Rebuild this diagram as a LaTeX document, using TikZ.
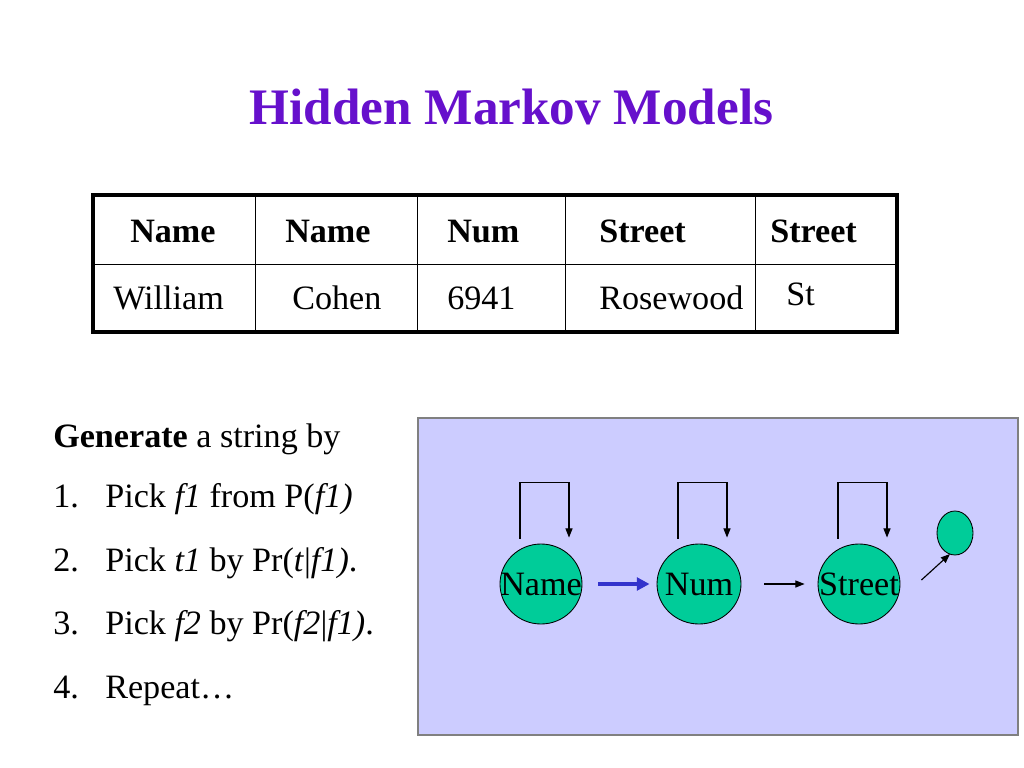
\documentclass[tikz,border=0pt]{standalone}
\usepackage{fontspec}
\setmainfont{Liberation Serif}
\usetikzlibrary{arrows.meta,calc,shapes.geometric}
\definecolor{titlecol}{HTML}{6610CC}
\definecolor{panel}{HTML}{CCCCFF}
\definecolor{panelborder}{HTML}{808080}
\definecolor{nodefill}{HTML}{00CC99}
\definecolor{bluearrow}{HTML}{3333CC}
\tikzset{
  txt/.style={font=\fontsize{24}{28}\selectfont, inner sep=0pt, anchor=base west},
  hdr/.style={txt, font=\fontsize{24}{28}\selectfont\bfseries},
  state/.style={ellipse, draw=black, line width=0.6pt, fill=nodefill, inner sep=0pt,
                font=\fontsize{24}{28}\selectfont},
  tip/.style={-{Triangle[length=6.5pt,width=5pt]}, line width=0.8pt},
  loopline/.style={tip, black},
}
\newcommand{\zw}[1]{\makebox[0pt]{#1}}
\begin{document}
\begin{tikzpicture}[x=0.703125pt, y=-0.703125pt]
\useasboundingbox (0,0) rectangle (1024,768);
\fill[white] (0,0) rectangle (1024,768);
% title
\node[anchor=base, inner sep=0pt, text=titlecol, font=\fontsize{36}{40}\selectfont\bfseries] (title) at (511.5,125) {Hidden Markov Models};
% table
\draw[line width=0.7pt] (93,264) -- (897,264);
\foreach \x in {255,417,565,755} \draw[line width=0.7pt] (\x,195) -- (\x,332);
\draw[line width=2.2pt] (93,195) rectangle (897,332);
\node[hdr] (h1) at (130,243) {Name};
\node[hdr] (h2) at (285,243) {Name};
\node[hdr] (h3) at (447,243) {Num};
\node[hdr] (h4) at (599,243) {Street};
\node[hdr] (h5) at (770,243) {Street};
\node[txt] (b1) at (113,310) {William};
\node[txt] (b2) at (292,310) {Cohen};
\node[txt] (b3) at (447,310) {6941};
\node[txt] (b4) at (599,310) {Rosewood};
\node[txt] (b5) at (786,305) {St};
% left text
\node[txt] (gen) at (53,447) {\textbf{Generate} a string by};
\node[txt] (n1) at (53,507) {1.};
\node[txt] (i1) at (105,507) {Pick \textit{f1} from P(\textit{f1)}};
\node[txt] (n2) at (53,571) {2.};
\node[txt] (i2) at (105,571) {Pick \textit{t1} by Pr(\textit{t}|\textit{f1)}.};
\node[txt] (n3) at (53,634) {3.};
\node[txt] (i3) at (105,634) {Pick \textit{f2} by Pr(\textit{f2}|\textit{f1)}.};
\node[txt] (n4) at (53,698) {4.};
\node[txt] (i4) at (105,698) {Repeat\dots};
% panel
\draw[fill=panel, draw=panelborder, line width=0.8pt] (418,418) rectangle (1018,735);
\node[state, minimum width=82*0.703125pt, minimum height=80*0.703125pt] (Name) at (541,584) {\zw{Name}};
\node[state, minimum width=84*0.703125pt, minimum height=80*0.703125pt] (Num) at (699,584) {\zw{Num}};
\node[state, minimum width=82*0.703125pt, minimum height=80*0.703125pt] (Street) at (859,584) {\zw{Street}};
\node[state, minimum width=36*0.703125pt, minimum height=44*0.703125pt] (End) at (955,533) {};
% transitions
\draw[-{Triangle[length=9pt,width=9pt]}, line width=3pt, bluearrow, shorten <=16*0.703125pt, shorten >=7*0.703125pt] (Name) -- (Num);
\draw[tip, shorten <=23*0.703125pt, shorten >=13*0.703125pt] (Num) -- (Street);
\draw[tip] ($(Street.east)+(21,-4)$) -- ($(End.center)+(-5,21)$);
% self loops
\foreach \n in {Name,Num,Street}{
  \draw[loopline] ($(\n.north)+(-21,-5)$) -- ++(0,-56) -| ($(\n.north)+(28,-6)$);
}
\end{tikzpicture}
\end{document}
